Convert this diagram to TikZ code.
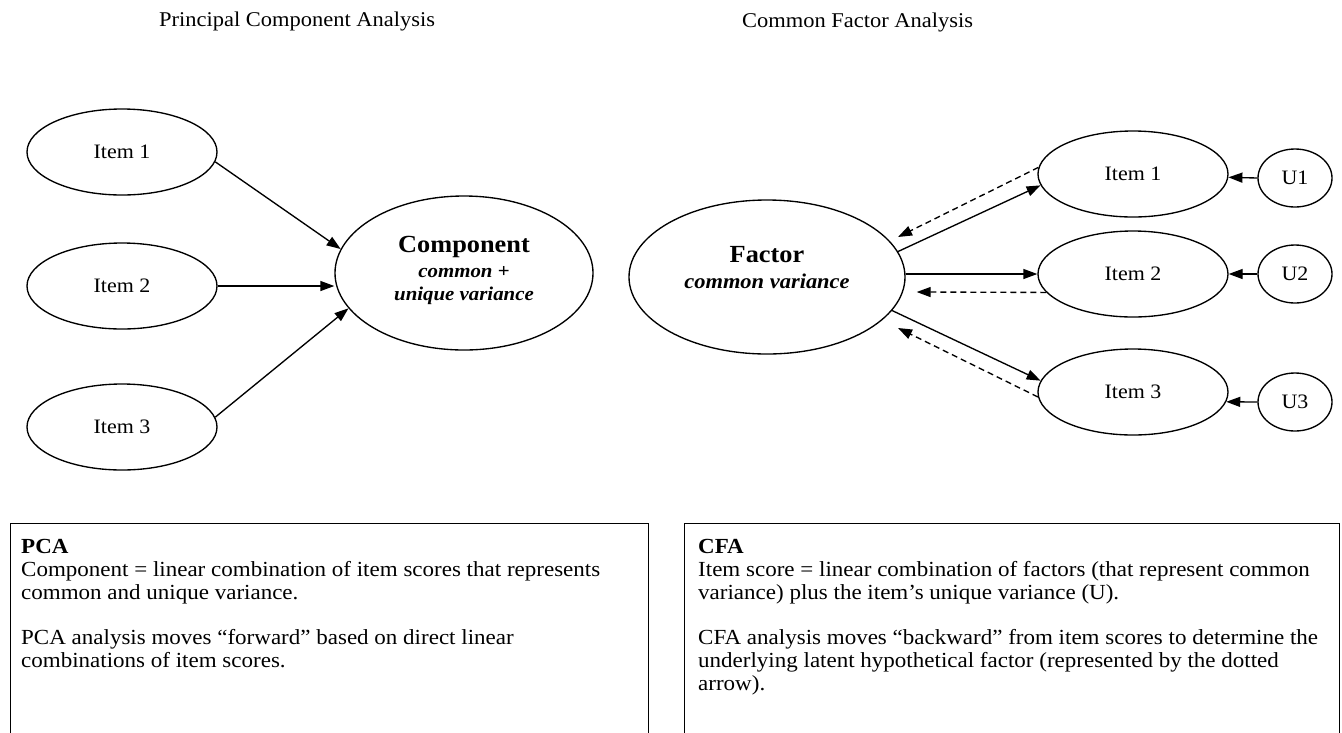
\documentclass[tikz,border=0pt]{standalone}
\usepackage{fontspec}
\setmainfont{Liberation Serif}[FakeStretch=1.07]
\usetikzlibrary{arrows.meta,shapes.geometric,calc}
\begin{document}
\begin{tikzpicture}[x=1pt,y=-1pt,
  ell/.style={draw, ellipse, line width=1.35pt, inner sep=0pt},
  itemell/.style={ell, minimum width=190pt, minimum height=86pt, font=\fontsize{20.5}{23}\selectfont},
  uell/.style={ell, minimum width=74pt, minimum height=58pt, font=\fontsize{20.5}{23}\selectfont},
  bigell/.style={ell, minimum height=154pt},
  bigb/.style={anchor=base, inner sep=0pt, font=\fontsize{24.6}{27}\selectfont\bfseries},
  bitext/.style={anchor=base, inner sep=0pt, font=\fontsize{19.5}{22}\selectfont\bfseries\itshape},
  bitextb/.style={anchor=base, inner sep=0pt, font=\fontsize{21}{23}\selectfont\bfseries\itshape},
  arr/.style={line width=1.35pt, -{Triangle[length=14pt,width=10pt]}},
  darr/.style={arr, dash pattern=on 6pt off 4pt},
  titletext/.style={anchor=base west, inner sep=0pt, font=\fontsize{21}{23}\selectfont},
  body/.style={anchor=north west, inner sep=0pt, align=left, font=\fontsize{21.5}{22.8}\selectfont},
  panel/.style={draw, line width=1.4pt, anchor=north west, minimum height=260pt, inner sep=0pt}]
\useasboundingbox (0,0) rectangle (1342,732);

% titles
\node[titletext] (t1) at (159,26) {Principal Component Analysis};
\node[titletext] (t2) at (742,27) {Common Factor Analysis};

% PCA side
\node[itemell] (L1) at (122,152) {Item 1};
\node[itemell] (L2) at (122,286) {Item 2};
\node[itemell] (L3) at (122,427) {Item 3};
\node[bigell, minimum width=258pt] (C) at (464,273) {};
\node[bigb] (Ca) at (464,252) {Component};
\node[bitext] (Cb) at (464,277) {common \textup{+}};
\node[bitext] (Cc) at (464,300) {unique variance};

\draw[arr] (L1.354) -- (C.169);
\draw[arr] (L2.east) -- (L2.east -| C.west);
\draw[arr] (L3.6) -- (C.197);

% CFA side
\node[bigell, minimum width=276pt] (F) at (767,277) {};
\node[bigb] (Fa) at (767,262) {Factor};
\node[bitextb] (Fb) at (767,288) {common variance};

\node[itemell] (R1) at (1133,174) {Item 1};
\node[itemell] (R2) at (1133,274) {Item 2};
\node[itemell] (R3) at (1133,392) {Item 3};
\node[uell] (U1) at (1295,178) {U1};
\node[uell] (U2) at (1295,274) {U2};
\node[uell] (U3) at (1295,402) {U3};

\coordinate (d1) at ($(F.center)+(131,-40)$);
\coordinate (d2) at ($(F.east)+(11,15)$);
\coordinate (d3) at ($(F.center)+(131,51)$);

\draw[arr] (F.11) -- (R1.187);
\draw[darr] (R1.176) -- (d1);
\draw[arr] (F.east |- R2.west) -- (R2.west);
\draw[darr] (R2.192) -- (d2);
\draw[arr] (F.345) -- (R3.173);
\draw[darr] (R3.183) -- (d3);

\draw[arr] (U1.west) -- (R1.358);
\draw[arr] (U2.west) -- (R2.east);
\draw[arr] (U3.west) -- (R3.354);

% text panels
\begin{scope}
\clip (0,0) rectangle (1342,732);
\node[panel, minimum width=638pt] (boxL) at (10,523) {};
\node[panel, minimum width=655pt] (boxR) at (684,523) {};
\end{scope}
\node[body] (txL) at (21,539) {\textbf{PCA}\\Component = linear combination of item scores that represents\\common and unique variance.\\[22.8pt]PCA analysis moves “forward” based on direct linear\\combinations of item scores.};
\node[body] (txR) at (698,539) {\textbf{CFA}\\Item score = linear combination of factors (that represent common\\variance) plus the item’s unique variance (U).\\[22.8pt]CFA analysis moves “backward” from item scores to determine the\\underlying latent hypothetical factor (represented by the dotted\\arrow).};
\end{tikzpicture}
\end{document}
